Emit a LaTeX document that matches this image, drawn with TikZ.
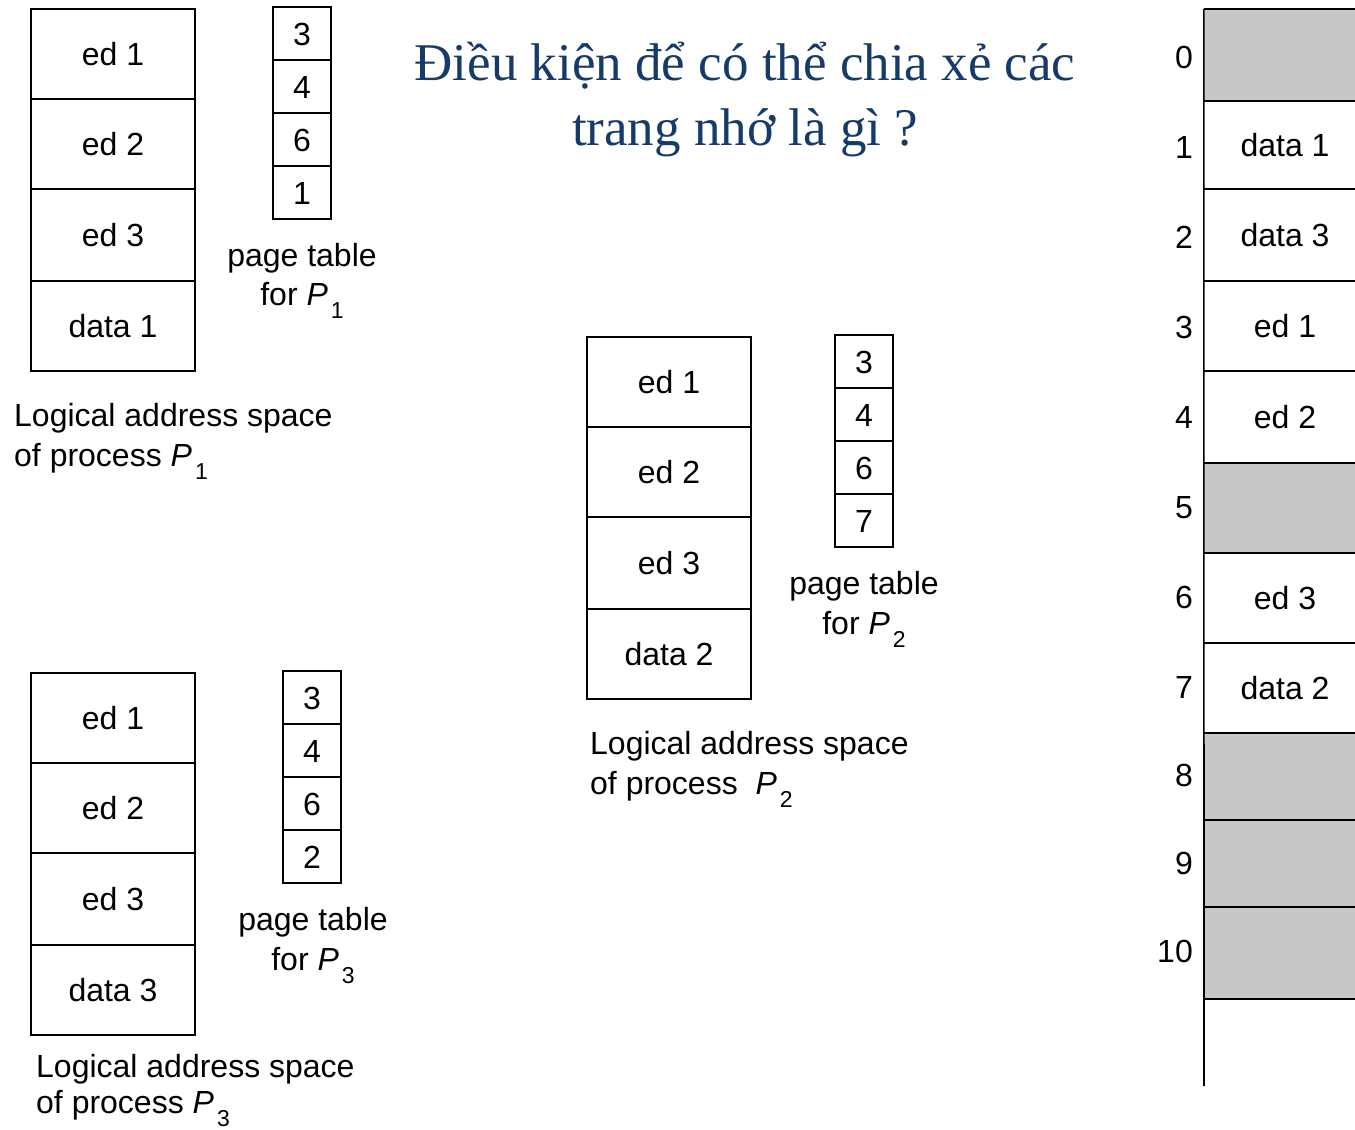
\documentclass[tikz,border=0pt]{standalone}
\usepackage{fontspec}
\setmainfont{Liberation Sans}
\newfontfamily\titlefont{Liberation Serif}
\definecolor{titleblue}{RGB}{22,58,105}
\definecolor{framegray}{RGB}{199,199,199}
\newcommand\lblfont{\fontsize{32}{38}\selectfont}
\newcommand\Psb[1]{\textit{P}\hspace{3pt}\raisebox{-13pt}{\fontsize{23}{23}\selectfont #1}}
\tikzset{
  seg/.style={draw, line width=1.6pt, minimum width=164pt, inner sep=0pt,
              text height=23pt, text depth=0pt, font=\lblfont},
  ptcell/.style={draw, line width=1.6pt, minimum width=58pt, minimum height=53pt,
              inner sep=0pt, text height=23pt, text depth=0pt, font=\lblfont},
  txt/.style={inner sep=0pt, font=\lblfont},
  frame/.style={inner sep=0pt, minimum width=151pt},
  gframe/.style={frame, fill=framegray},
  num/.style={anchor=east, inner sep=0pt, text height=23pt, text depth=0pt, font=\lblfont},
  memline/.style={line width=1.6pt},
  ttl/.style={anchor=base, inner sep=0pt, text=titleblue, font=\titlefont\fontsize{53}{65}\selectfont}
}
\begin{document}
\begin{tikzpicture}[x=1pt,y=-1pt]
\useasboundingbox[fill=white] (0,0) rectangle (1355,1130);

% title
\node[ttl] (t1) at (745,80) {Điều kiện để có thể chia xẻ các};
\node[ttl] (t2) at (745,145) {trang nhớ là gì ?};

% ---------- P1 ----------
\node[seg, minimum height=90pt] (a1) at (113,54) {ed 1};
\node[seg, minimum height=90pt] (a2) at (113,144) {ed 2};
\node[seg, minimum height=92pt] (a3) at (113,235) {ed 3};
\node[seg, minimum height=90pt] (a4) at (113,326) {data 1};
\node[ptcell] (pa1) at (302,33.5) {3};
\node[ptcell] (pa2) at (302,86.5) {4};
\node[ptcell] (pa3) at (302,139.5) {6};
\node[ptcell] (pa4) at (302,192.5) {1};
\node[txt, anchor=base] (pta1) at (302,266) {page table};
\node[txt, anchor=base] (pta2) at (302,305) {for \Psb{1}};
\node[txt, anchor=base west] (la1) at (14,426) {Logical address space};
\node[txt, anchor=base west] (la2) at (14,466) {of process \Psb{1}};

% ---------- P2 ----------
\node[seg, minimum height=90pt] (b1) at (669,382) {ed 1};
\node[seg, minimum height=90pt] (b2) at (669,472) {ed 2};
\node[seg, minimum height=92pt] (b3) at (669,563) {ed 3};
\node[seg, minimum height=90pt] (b4) at (669,654) {data 2};
\node[ptcell] (pb1) at (864,361.5) {3};
\node[ptcell] (pb2) at (864,414.5) {4};
\node[ptcell] (pb3) at (864,467.5) {6};
\node[ptcell] (pb4) at (864,520.5) {7};
\node[txt, anchor=base] (ptb1) at (864,594) {page table};
\node[txt, anchor=base] (ptb2) at (864,634) {for \Psb{2}};
\node[txt, anchor=base west] (lb1) at (590,754) {Logical address space};
\node[txt, anchor=base west] (lb2) at (590,794) {of process \ \Psb{2}};

% ---------- P3 ----------
\node[seg, minimum height=90pt] (c1) at (113,718) {ed 1};
\node[seg, minimum height=90pt] (c2) at (113,808) {ed 2};
\node[seg, minimum height=92pt] (c3) at (113,899) {ed 3};
\node[seg, minimum height=90pt] (c4) at (113,990) {data 3};
\node[ptcell] (pc1) at (312,697.5) {3};
\node[ptcell] (pc2) at (312,750.5) {4};
\node[ptcell] (pc3) at (312,803.5) {6};
\node[ptcell] (pc4) at (312,856.5) {2};
\node[txt, anchor=base] (ptc1) at (313,930) {page table};
\node[txt, anchor=base] (ptc2) at (313,970) {for \Psb{3}};
\node[txt, anchor=base west] (lc1) at (36,1077) {Logical address space};
\node[txt, anchor=base west] (lc2) at (36,1113) {of process \Psb{3}};

% ---------- physical memory ----------
\node[gframe, minimum height=92pt] (m0) at (1279.5,55) {};
\node[frame,  minimum height=88pt] (m1) at (1279.5,145) {};
\node[frame,  minimum height=92pt] (m2) at (1279.5,235) {};
\node[frame,  minimum height=90pt] (m3) at (1279.5,326) {};
\node[frame,  minimum height=92pt] (m4) at (1279.5,417) {};
\node[gframe, minimum height=90pt] (m5) at (1279.5,508) {};
\node[frame,  minimum height=90pt] (m6) at (1279.5,598) {};
\node[frame,  minimum height=90pt] (m7) at (1279.5,688) {};
\node[gframe, minimum height=87pt] (m8) at (1279.5,776.5) {};
\node[gframe, minimum height=87pt] (m9) at (1279.5,863.5) {};
\node[gframe, minimum height=92pt] (m10) at (1279.5,953) {};
\coordinate (mbot) at (1204,1086);

\foreach \m in {m0,m1,m2,m3,m4,m5,m6,m7,m8,m9,m10}
  \draw[memline] (\m.north west) -- (\m.north east);
\draw[memline] (m10.south west) -- (m10.south east);
\draw[memline] (m0.north west) -- (mbot);

\node[txt, text height=23pt, text depth=0pt] (d1) at (1285,145) {data 1};
\node[txt, text height=23pt, text depth=0pt] (d2) at (1285,235) {data 3};
\node[txt, text height=23pt, text depth=0pt] (d3) at (1285,326) {ed 1};
\node[txt, text height=23pt, text depth=0pt] (d4) at (1285,417) {ed 2};
\node[txt, text height=23pt, text depth=0pt] (d6) at (1285,598) {ed 3};
\node[txt, text height=23pt, text depth=0pt] (d7) at (1285,688) {data 2};

\node[num] (n0) at (1193,57) {0};
\node[num] (n1) at (1193,147) {1};
\node[num] (n2) at (1193,237) {2};
\node[num] (n3) at (1193,327) {3};
\node[num] (n4) at (1193,417) {4};
\node[num] (n5) at (1193,507) {5};
\node[num] (n6) at (1193,597) {6};
\node[num] (n7) at (1193,687) {7};
\node[num] (n8) at (1193,775) {8};
\node[num] (n9) at (1193,863) {9};
\node[num] (n10) at (1193,951) {10};
\end{tikzpicture}
\end{document}
